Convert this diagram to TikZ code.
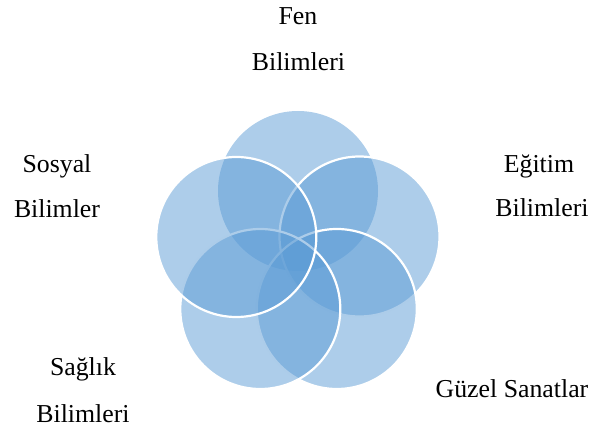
\documentclass[tikz,border=0pt]{standalone}
\usepackage{fontspec}
\setmainfont{Liberation Serif}
\definecolor{venn}{HTML}{5B9BD5}
\tikzset{
  vcircle/.style={circle, fill=venn, fill opacity=0.5, inner sep=0pt, minimum size=160pt},
  vborder/.style={vcircle, draw=white, line width=2.2pt, draw opacity=1},
  lbl/.style={anchor=base, inner sep=0pt, font=\fontsize{25.8}{30}\selectfont, text=black}
}
\begin{document}
\begin{tikzpicture}[x=1pt,y=-1pt]
\useasboundingbox (0,0) rectangle (592,430);
% circles, bottom to top
\node[vcircle] (top) at (298,191) {};
\node[vborder] (right) at (359.5,236.5) {};
\node[vborder] (bright) at (336.8,309) {};
\node[vborder] (bleft) at (260.3,309) {};
\node[vborder] (left) at (236.3,237) {};
% labels
\node[lbl] (fen1) at (298,25) {Fen};
\node[lbl] (fen2) at (298.5,71) {Bilimleri};
\node[lbl] (sos1) at (57,173) {Sosyal};
\node[lbl] (sos2) at (57,218) {Bilimler};
\node[lbl] (egi1) at (539,173) {Eğitim};
\node[lbl] (egi2) at (542,217) {Bilimleri};
\node[lbl] (sag1) at (83,376) {Sağlık};
\node[lbl] (sag2) at (83,422) {Bilimleri};
\node[lbl] (guz) at (512,398) {Güzel Sanatlar};
\end{tikzpicture}
\end{document}
